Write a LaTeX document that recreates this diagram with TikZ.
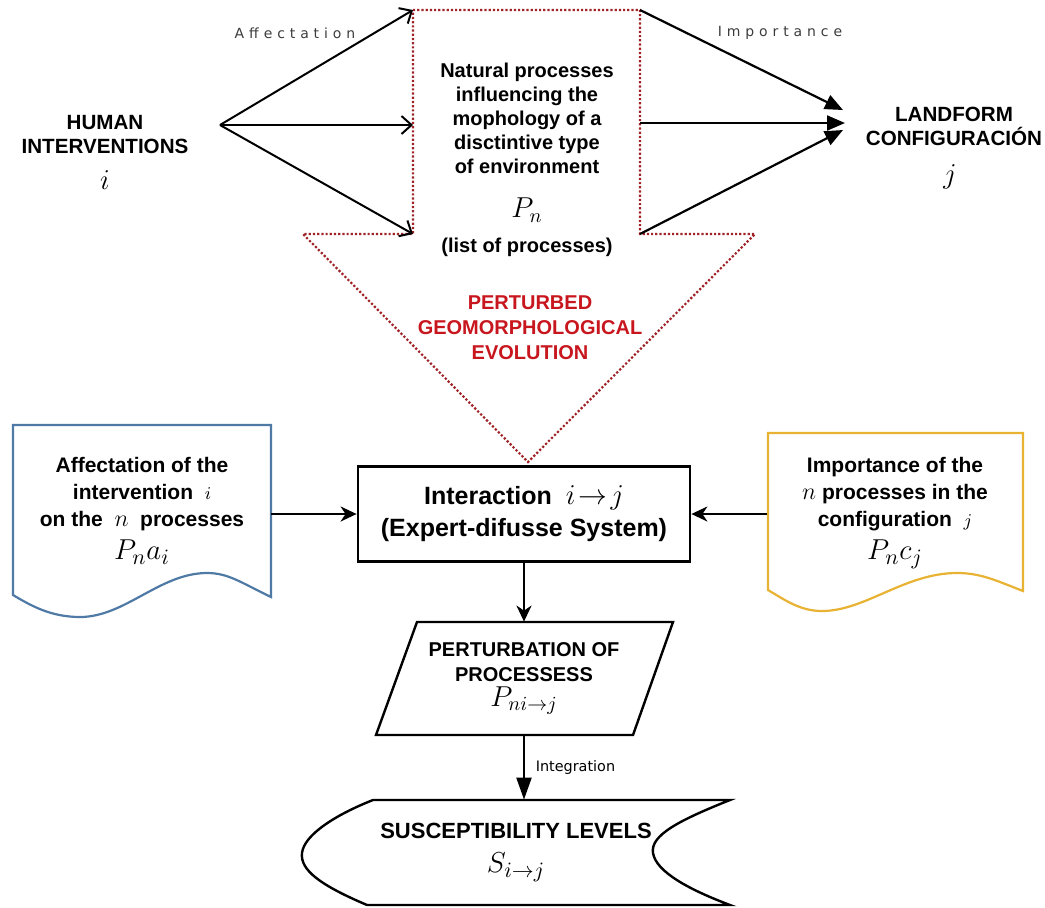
\documentclass[tikz,border=0pt]{standalone}
\usepackage{fontspec}
\setmainfont{Liberation Sans}
\newfontfamily\labelfont[LetterSpace=35]{DejaVu Sans}
\newfontfamily\smallfont{DejaVu Sans}
\usetikzlibrary{arrows.meta}
\definecolor{dotred}{RGB}{160,35,40}
\definecolor{evored}{RGB}{200,22,30}
\definecolor{docblue}{RGB}{78,122,165}
\definecolor{docgold}{RGB}{232,178,50}
\definecolor{labelgrey}{RGB}{60,60,60}
\tikzset{
  hd/.style={font=\fontsize{10.3pt}{12pt}\selectfont\bfseries, align=center, inner sep=0pt},
  bodytxt/.style={font=\fontsize{10pt}{12pt}\selectfont\bfseries, align=center, inner sep=0pt},
  doctxt/.style={font=\fontsize{10.5pt}{13.5pt}\selectfont\bfseries, align=center, inner sep=0pt},
  redtxt/.style={font=\fontsize{10pt}{12.5pt}\selectfont\bfseries, align=center, inner sep=0pt, text=evored},
  bigmath/.style={font=\fontsize{14pt}{16pt}\selectfont, inner sep=0pt},
  spaced/.style={font=\labelfont\fontsize{7pt}{8pt}\selectfont, text=labelgrey, inner sep=0pt},
  blockarrow/.style={draw=dotred, densely dotted, line width=1.1pt},
  affarrow/.style={line width=1pt, -{Straight Barb[length=5pt,width=9pt,line width=1pt]}},
  imparrow/.style={line width=1.1pt, -{Triangle[length=9pt,width=7.5pt]}},
  flowarrow/.style={line width=1.1pt, -{Stealth[length=8pt,width=7.5pt,inset=2.5pt]}},
  intarrow/.style={line width=1.1pt, -{Triangle[length=11pt,width=7.5pt]}},
  boxline/.style={draw=black, line width=1.4pt},
}
\begin{document}
\begin{tikzpicture}[x=0.5pt,y=-0.5pt]
\useasboundingbox (0,0) rectangle (1045,907);

% corners of the dotted block arrow
\coordinate (bTL) at (413,10);
\coordinate (bTR) at (640,10);
\coordinate (bRS) at (640,234);
\coordinate (bRW) at (755,234);
\coordinate (bTip) at (528,462);
\coordinate (bLW) at (303,234);
\coordinate (bLS) at (413,234);
\coordinate (bL) at (413,125);
\coordinate (bR) at (640,123);
\draw[blockarrow] (bTL) -- (bTR) -- (bRS) -- (bRW) -- (bTip) -- (bLW) -- (bLS) -- cycle;

% contents of the block arrow
\node[bodytxt] (natural) at (527,118)
  {Natural processes\\influencing the\\mophology of a\\disctintive type\\of environment};
\node[bigmath] (pn) at (527,210) {$P_n$};
\node[bodytxt] (list) at (527,247) {(list of processes)};
\node[redtxt] (evo) at (530,328) {PERTURBED\\GEOMORPHOLOGICAL\\EVOLUTION};

% human interventions and their effects
\node[hd] (human) at (105,135) {HUMAN\\INTERVENTIONS};
\node[bigmath] (hi) at (105,180) {$i$};
\coordinate (hub) at (220,125);
\draw[affarrow] (hub) -- (bTL);
\draw[affarrow] (hub) -- (bL);
\draw[affarrow] (hub) -- (bLS);
\node[spaced] (afflbl) at (295,33) {Affectation};

% landform configuration
\node[hd] (land) at (954,126) {LANDFORM\\CONFIGURACIÓN};
\node[bigmath] (lj) at (950,177) {$j$};
\coordinate (tipA) at (843,110);
\coordinate (tipB) at (845,123);
\coordinate (tipC) at (843,130);
\draw[imparrow] (bTR) -- (tipA);
\draw[imparrow] (bR) -- (tipB);
\draw[imparrow] (bRS) -- (tipC);
\node[spaced] (implbl) at (780,33) {Importance};

% central interaction box
\node[boxline, minimum width=166pt, minimum height=47.5pt, inner sep=0pt,
      font=\fontsize{12.5pt}{16pt}\selectfont\bfseries, align=center]
  (cbox) at (524,514) {Interaction \ {\fontsize{14pt}{14pt}\selectfont$i\!\to\! j$}\\(Expert-difusse System)};

% affectation document
\node[doctxt, minimum width=129pt, minimum height=86pt] (ldoc) at (142,511)
  {Affectation of the\\intervention \ {\fontsize{9pt}{9pt}\selectfont$i$}\\on the \ {\fontsize{13pt}{13pt}\selectfont$n$} \ processes\\[3pt]{\fontsize{15pt}{15pt}\selectfont$P_n a_i$}};
\draw[draw=docblue, line width=1.1pt]
  (13,425) -- (271,425) -- (271,597)
  .. controls (240,582) and (228,573) .. (207,573)
  .. controls (160,573) and (125,617) .. (80,617)
  .. controls (50,617) and (30,605) .. (13,595) -- cycle;

% importance document
\node[doctxt, minimum width=127.5pt, minimum height=79pt] (rdoc) at (895,513)
  {Importance of the\\{\fontsize{13pt}{13pt}\selectfont$n$} processes in the\\configuration \ {\fontsize{9pt}{9pt}\selectfont$j$}\\[3pt]{\fontsize{15pt}{15pt}\selectfont$P_n c_j$}};
\draw[draw=docgold, line width=1.1pt]
  (768,433) -- (1023,433) -- (1023,591)
  .. controls (995,580) and (980,573) .. (957,573)
  .. controls (905,573) and (865,611) .. (822,611)
  .. controls (800,611) and (785,600) .. (768,590) -- cycle;

\draw[flowarrow] (ldoc.east |- cbox.west) -- (cbox.west);
\draw[flowarrow] (rdoc.west |- cbox.east) -- (cbox.east);

% perturbation of processes
\node[bodytxt, font=\fontsize{10pt}{12.5pt}\selectfont\bfseries, minimum height=56.5pt] (para) at (524,678.5)
  {PERTURBATION OF\\PROCESSESS\\{\fontsize{14pt}{14pt}\selectfont$P_{ni\to j}$}};
\draw[boxline, line width=1.2pt] (417,622) -- (673,622) -- (633,735) -- (376,735) -- cycle;
\draw[flowarrow] (cbox.south) -- (cbox.south |- para.north);

% susceptibility levels
\node[bodytxt, font=\fontsize{11pt}{17pt}\selectfont\bfseries, minimum height=52.5pt] (store) at (516,852.5)
  {SUSCEPTIBILITY LEVELS\\{\fontsize{15pt}{15pt}\selectfont$S_{i\to j}$}};
\draw[line width=1.2pt]
  (373,800) -- (730,800)
  .. controls (680,820) and (650,835) .. (653,853)
  .. controls (656,872) and (690,890) .. (730,905)
  -- (367,905)
  .. controls (320,885) and (300,870) .. (302,853)
  .. controls (304,835) and (335,815) .. (373,800) -- cycle;
\draw[intarrow] (para.south) -- node[right, xshift=2pt, font=\smallfont\fontsize{7.2pt}{8pt}\selectfont] (intlbl) {Integration} (para.south |- store.north);
\end{tikzpicture}
\end{document}
